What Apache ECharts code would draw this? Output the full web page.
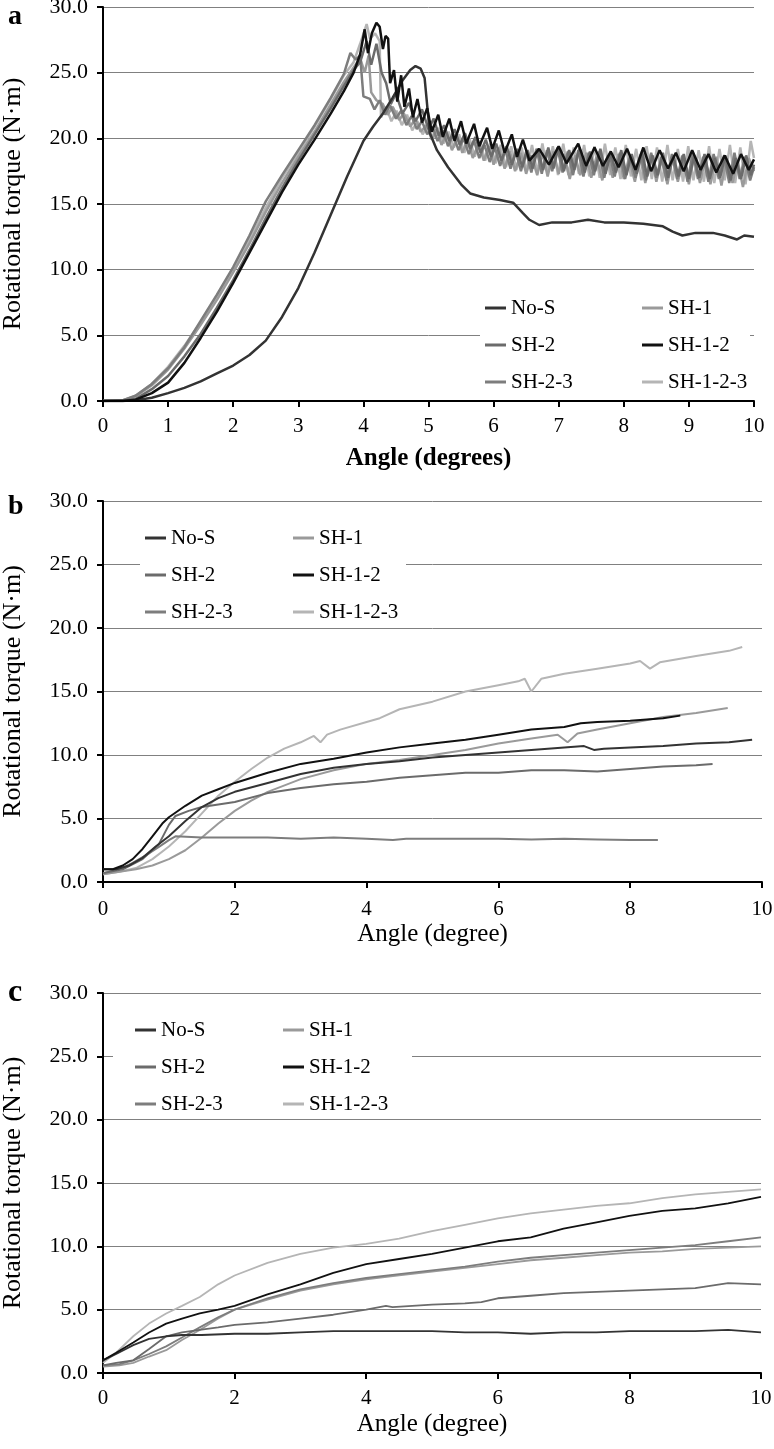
<!DOCTYPE html>
<html><head><meta charset="utf-8">
<script src="https://cdn.jsdelivr.net/npm/echarts/dist/echarts.min.js"></script>
<style>html,body{margin:0;padding:0;background:#fff}#c{width:774px;height:1449px}</style>
</head><body><div id="c"></div><script>
// ---------- data ----------
const seriesNames = ['No-S','SH-1','SH-2','SH-1-2','SH-2-3','SH-1-2-3'];
const yTickLabels = ['0.0','5.0','10.0','15.0','20.0','25.0','30.0'];
const xTickLabelsA = ['0','1','2','3','4','5','6','7','8','9','10'];
const xTickLabelsBC = ['0','2','4','6','8','10'];
const panelLetters = ['a','b','c'];
const xTitles = ['Angle (degrees)','Angle (degree)','Angle (degree)'];
const yTitle = 'Rotational torque (N\u00b7m)';

// Panel a
const aNoS = [[0,0],[0.3,0],[0.5,0.05],[0.75,0.25],[1,0.6],[1.25,1.0],[1.5,1.5],[1.75,2.1],[2,2.7],[2.25,3.5],[2.5,4.6],[2.75,6.4],[3,8.6],[3.25,11.3],[3.5,14.2],[3.75,17.1],[4,19.8],[4.15,20.9],[4.3,21.9],[4.45,23.1],[4.6,24.4],[4.72,25.2],[4.8,25.5],[4.88,25.3],[4.94,24.6],[4.98,22.5],[5.02,20.4],[5.13,19.1],[5.3,17.8],[5.5,16.5],[5.64,15.8],[5.85,15.5],[6.1,15.3],[6.3,15.1],[6.45,14.3],[6.55,13.8],[6.7,13.4],[6.9,13.6],[7.2,13.6],[7.45,13.8],[7.7,13.6],[8.0,13.6],[8.3,13.5],[8.6,13.3],[8.75,12.9],[8.9,12.6],[9.1,12.8],[9.37,12.8],[9.55,12.6],[9.74,12.3],[9.85,12.6],[10,12.5]];
const aSH1 = [[0,0],[0.3,0.05],[0.5,0.35],[0.75,1.2],[1,2.4],[1.25,4.0],[1.5,5.8],[1.75,7.7],[2,9.8],[2.25,12.0],[2.5,14.4],[2.75,16.6],[3,18.6],[3.25,20.5],[3.5,22.6],[3.7,24.3],[3.85,25.4],[3.95,26.1],[4.02,25.0],[4.08,26.3],[4.12,23.5],[4.2,22.9],[4.3,22.6],[4.37,21.8],[4.45,22.4],[4.55,21.4],[4.62,21.9],[4.72,20.9],[4.8,21.5],[4.88,20.5],[4.97,21.0],[5.05,19.9],[5.12,20.7],[5.2,19.5],[5.28,20.4],[5.36,19.1],[5.45,20.1],[5.52,18.9],[5.6,19.9],[5.68,18.5],[5.77,19.6],[5.85,18.3],[5.93,19.4],[6.0,18.0],[6.08,19.3],[6.17,17.7],[6.25,19.0],[6.33,17.5],[6.42,18.9],[6.5,17.3],[6.58,18.7],[6.67,17.2],[6.75,18.9],[6.83,17.1],[6.92,19.0],[7.0,17.3],[7.08,18.8],[7.17,16.9],[7.25,18.7],[7.33,17.2],[7.42,18.9],[7.5,17.0],[7.58,18.6],[7.67,16.8],[7.75,18.7],[7.83,17.0],[7.92,18.8],[8.0,16.9],[8.08,18.5],[8.17,16.7],[8.25,18.6],[8.33,16.6],[8.42,18.8],[8.5,16.7],[8.58,18.4],[8.67,16.5],[8.75,18.6],[8.83,16.7],[8.92,18.5],[9.0,16.5],[9.08,18.7],[9.17,16.6],[9.25,18.4],[9.33,16.5],[9.42,18.6],[9.5,16.4],[9.58,18.5],[9.67,16.6],[9.75,18.3],[9.83,16.3],[9.92,18.5],[10,17.5]];
const aSH2 = [[0,0],[0.3,0],[0.5,0.15],[0.75,0.9],[1,1.9],[1.25,3.4],[1.5,5.1],[1.75,7.1],[2,9.2],[2.25,11.5],[2.5,13.9],[2.75,16.2],[3,18.3],[3.25,20.3],[3.5,22.3],[3.7,24.0],[3.85,25.2],[3.95,25.8],[4.05,27.4],[4.12,25.6],[4.2,27.2],[4.28,25.0],[4.35,24.2],[4.42,22.6],[4.5,23.4],[4.6,21.9],[4.7,22.7],[4.8,21.3],[4.9,22.2],[5.0,20.7],[5.08,21.5],[5.16,20.2],[5.24,21.0],[5.32,19.8],[5.4,20.7],[5.48,19.5],[5.56,20.4],[5.64,19.2],[5.72,20.1],[5.8,18.9],[5.88,19.9],[5.96,18.6],[6.04,19.6],[6.12,18.3],[6.2,19.4],[6.28,18.0],[6.36,19.2],[6.44,17.8],[6.52,19.1],[6.6,17.7],[6.68,19.2],[6.76,17.6],[6.84,19.3],[6.92,17.7],[7.0,19.4],[7.08,17.5],[7.16,19.1],[7.24,17.6],[7.32,19.3],[7.4,17.4],[7.48,19.0],[7.56,17.5],[7.64,19.2],[7.72,17.3],[7.8,18.9],[7.88,17.4],[7.96,19.1],[8.04,17.2],[8.12,18.8],[8.2,17.3],[8.28,19.0],[8.36,17.1],[8.44,18.7],[8.52,17.2],[8.6,18.9],[8.68,17.0],[8.76,18.7],[8.84,17.1],[8.92,18.8],[9.0,16.9],[9.08,18.6],[9.16,17.0],[9.24,18.8],[9.32,16.9],[9.4,18.5],[9.48,17.0],[9.56,18.7],[9.64,16.8],[9.72,18.5],[9.8,16.9],[9.88,18.7],[9.95,17.2],[10,18.0]];
const aSH12 = [[0,0],[0.3,0],[0.5,0.1],[0.75,0.6],[1,1.4],[1.25,2.9],[1.5,4.8],[1.75,6.8],[2,9.0],[2.25,11.3],[2.5,13.6],[2.75,15.9],[3,18.0],[3.25,19.9],[3.5,21.9],[3.7,23.6],[3.85,25.0],[3.95,26.4],[4.02,28.3],[4.07,26.5],[4.13,28.0],[4.2,28.8],[4.25,28.5],[4.3,26.8],[4.34,27.8],[4.38,27.6],[4.41,24.2],[4.47,25.2],[4.52,22.8],[4.58,24.8],[4.63,22.4],[4.7,23.8],[4.76,21.6],[4.83,23.0],[4.9,21.2],[4.98,22.3],[5.05,20.5],[5.15,21.8],[5.22,20.1],[5.32,21.5],[5.4,19.8],[5.5,21.3],[5.58,19.6],[5.7,21.1],[5.78,19.4],[5.9,20.8],[5.98,19.2],[6.08,20.6],[6.17,18.9],[6.28,20.3],[6.36,18.6],[6.45,19.9],[6.55,18.3],[6.7,19.2],[6.85,18.0],[7.0,19.4],[7.12,18.1],[7.3,19.6],[7.42,17.9],[7.55,19.3],[7.68,17.9],[7.8,19.0],[7.92,17.8],[8.05,19.2],[8.18,17.6],[8.3,19.3],[8.42,17.5],[8.55,19.1],[8.68,17.7],[8.8,18.9],[8.92,17.5],[9.05,19.1],[9.18,17.6],[9.3,18.8],[9.42,17.4],[9.55,18.7],[9.68,17.3],[9.8,18.8],[9.92,17.6],[10,18.4]];
const aSH23 = [[0,0],[0.3,0.05],[0.5,0.4],[0.75,1.3],[1,2.5],[1.25,4.1],[1.5,6.1],[1.75,8.1],[2,10.2],[2.25,12.6],[2.5,15.2],[2.75,17.2],[3,19.1],[3.25,21.0],[3.5,23.1],[3.7,24.9],[3.8,26.5],[3.88,26.0],[3.95,26.3],[4.0,23.2],[4.1,23.0],[4.17,22.2],[4.25,22.9],[4.33,21.8],[4.41,22.5],[4.5,21.5],[4.58,22.1],[4.66,21.0],[4.74,21.7],[4.82,20.7],[4.9,21.3],[4.98,20.3],[5.06,20.9],[5.14,19.8],[5.22,20.6],[5.3,19.4],[5.38,20.3],[5.46,19.1],[5.54,20.0],[5.62,18.8],[5.7,19.8],[5.78,18.5],[5.86,19.5],[5.94,18.2],[6.02,19.3],[6.1,17.9],[6.18,19.1],[6.26,17.7],[6.34,19.0],[6.42,17.5],[6.5,19.0],[6.58,17.4],[6.66,19.2],[6.74,17.3],[6.82,19.1],[6.9,17.5],[6.98,19.3],[7.06,17.4],[7.14,19.0],[7.22,17.2],[7.3,19.1],[7.38,17.1],[7.46,18.9],[7.54,17.2],[7.62,19.0],[7.7,17.0],[7.78,18.8],[7.86,17.1],[7.94,18.9],[8.02,16.9],[8.1,18.7],[8.18,17.0],[8.26,18.8],[8.34,16.8],[8.42,18.9],[8.5,17.0],[8.58,18.6],[8.66,16.8],[8.74,18.8],[8.82,16.9],[8.9,18.7],[8.98,16.7],[9.06,18.9],[9.14,16.9],[9.22,18.6],[9.3,16.7],[9.38,18.8],[9.46,16.9],[9.54,18.7],[9.62,16.6],[9.7,18.9],[9.78,16.9],[9.86,18.6],[9.94,16.8],[10,17.8]];
const aSH123 = [[0,0],[0.3,0.05],[0.5,0.4],[0.75,1.3],[1,2.6],[1.25,4.2],[1.5,6.0],[1.75,8.0],[2,10.1],[2.25,12.3],[2.5,14.7],[2.75,17.0],[3,18.9],[3.25,20.9],[3.5,23.0],[3.7,24.8],[3.85,25.8],[3.95,27.2],[4.05,28.7],[4.1,27.6],[4.18,28.0],[4.25,27.4],[4.27,21.6],[4.35,22.4],[4.43,21.3],[4.51,22.1],[4.59,21.0],[4.67,21.8],[4.75,20.6],[4.83,21.3],[4.91,20.3],[4.99,21.0],[5.07,20.0],[5.15,20.8],[5.23,19.6],[5.31,20.5],[5.39,19.3],[5.47,20.3],[5.55,18.9],[5.63,20.0],[5.71,18.6],[5.79,19.8],[5.87,18.3],[5.95,19.6],[6.03,18.1],[6.11,19.5],[6.19,17.8],[6.27,19.4],[6.35,17.6],[6.43,19.3],[6.51,17.5],[6.59,19.5],[6.67,17.4],[6.75,19.6],[6.83,17.3],[6.91,19.4],[6.99,17.2],[7.07,19.6],[7.15,17.2],[7.23,19.3],[7.31,17.3],[7.39,19.5],[7.47,17.1],[7.55,19.4],[7.63,17.0],[7.71,19.6],[7.79,17.2],[7.87,19.3],[7.95,16.9],[8.03,19.5],[8.11,17.1],[8.19,19.2],[8.27,16.8],[8.35,19.4],[8.43,16.9],[8.51,19.3],[8.59,16.7],[8.67,19.5],[8.75,16.8],[8.83,19.2],[8.91,16.7],[8.99,19.4],[9.07,16.8],[9.15,19.1],[9.23,16.7],[9.31,19.4],[9.39,16.6],[9.47,19.2],[9.55,16.8],[9.63,19.5],[9.71,16.6],[9.79,19.3],[9.87,16.5],[9.95,19.8],[10,18.5]];

// Panel b
const bNoS = [[0,1.0],[0.2,1.0],[0.4,1.3],[0.6,1.9],[0.8,2.8],[1.0,3.6],[1.25,4.8],[1.5,5.9],[1.75,6.6],[2,7.1],[2.5,7.8],[3,8.5],[3.5,9.0],[4,9.3],[4.5,9.5],[5,9.8],[5.5,10.0],[6,10.2],[6.5,10.4],[7,10.6],[7.3,10.7],[7.45,10.4],[7.6,10.5],[8,10.6],[8.5,10.7],[9,10.9],[9.5,11.0],[9.85,11.2]];
const bSH1 = [[0,0.6],[0.25,0.8],[0.5,1.0],[0.75,1.3],[1,1.8],[1.25,2.5],[1.5,3.5],[1.75,4.6],[2,5.6],[2.25,6.4],[2.5,7.1],[3,8.1],[3.5,8.8],[4,9.3],[4.5,9.6],[5,10.0],[5.5,10.4],[6,10.9],[6.5,11.3],[6.9,11.6],[7.05,11.0],[7.2,11.7],[7.5,12.0],[8,12.5],[8.5,13.0],[9,13.3],[9.48,13.7]];
const bSH2 = [[0,0.7],[0.3,1.0],[0.6,1.8],[0.85,3.0],[1.0,4.5],[1.1,5.2],[1.3,5.6],[1.5,5.9],[1.75,6.1],[2,6.3],[2.5,7.0],[3,7.4],[3.5,7.7],[4,7.9],[4.5,8.2],[5,8.4],[5.5,8.6],[6,8.6],[6.5,8.8],[7,8.8],[7.5,8.7],[8,8.9],[8.5,9.1],[9,9.2],[9.25,9.3]];
const bSH12 = [[0,1.0],[0.15,1.0],[0.3,1.3],[0.45,1.8],[0.6,2.6],[0.75,3.6],[0.9,4.6],[1.0,5.1],[1.25,6.0],[1.5,6.8],[1.75,7.3],[2,7.8],[2.5,8.6],[3,9.3],[3.5,9.7],[4,10.2],[4.5,10.6],[5,10.9],[5.5,11.2],[6,11.6],[6.5,12.0],[7,12.2],[7.25,12.5],[7.5,12.6],[8,12.7],[8.5,12.9],[8.76,13.1]];
const bSH23 = [[0,0.7],[0.25,1.0],[0.45,1.5],[0.65,2.1],[0.86,2.8],[1.0,3.3],[1.1,3.6],[1.5,3.5],[2,3.5],[2.5,3.5],[3,3.4],[3.5,3.5],[4,3.4],[4.4,3.3],[4.6,3.4],[5,3.4],[5.5,3.4],[6,3.4],[6.5,3.35],[7,3.4],[7.5,3.35],[8,3.3],[8.42,3.3]];
const bSH123 = [[0,0.6],[0.25,0.8],[0.5,1.1],[0.75,1.8],[1,2.8],[1.25,4.0],[1.5,5.4],[1.75,6.8],[2,7.9],[2.25,8.9],[2.5,9.8],[2.75,10.5],[3,11.0],[3.2,11.5],[3.3,11.0],[3.4,11.6],[3.6,12.0],[4,12.6],[4.2,12.9],[4.5,13.6],[5,14.2],[5.5,15.0],[6,15.5],[6.3,15.8],[6.4,16.0],[6.5,15.0],[6.65,16.0],[7,16.4],[7.5,16.8],[8,17.2],[8.15,17.4],[8.3,16.8],[8.45,17.3],[9,17.8],[9.5,18.2],[9.7,18.5]];

// Panel c
const cNoS = [[0,1.0],[0.2,1.5],[0.46,2.2],[0.7,2.7],[0.96,2.9],[1.2,3.0],[1.5,3.0],[2,3.1],[2.5,3.1],[3,3.2],[3.5,3.3],[4,3.3],[4.5,3.3],[5,3.3],[5.5,3.2],[6,3.2],[6.5,3.1],[7,3.2],[7.5,3.2],[8,3.3],[8.5,3.3],[9,3.3],[9.5,3.4],[10,3.2]];
const cSH1 = [[0,0.5],[0.25,0.6],[0.46,0.8],[0.7,1.3],[0.96,1.8],[1.2,2.6],[1.47,3.4],[1.75,4.3],[2,5.0],[2.5,5.8],[3,6.5],[3.5,7.0],[4,7.4],[4.5,7.7],[5,8.0],[5.5,8.3],[6,8.6],[6.5,8.9],[7,9.1],[7.5,9.3],[8,9.5],[8.5,9.6],[9,9.8],[9.5,9.9],[10,10.0]];
const cSH2 = [[0,0.6],[0.2,0.8],[0.46,1.0],[0.7,1.9],[0.96,2.9],[1.2,3.2],[1.47,3.4],[1.75,3.6],[2,3.8],[2.5,4.0],[3,4.3],[3.5,4.6],[4,5.0],[4.3,5.3],[4.4,5.2],[5,5.4],[5.5,5.5],[5.75,5.6],[6,5.9],[6.5,6.1],[7,6.3],[7.5,6.4],[8,6.5],[8.5,6.6],[9,6.7],[9.5,7.1],[10,7.0]];
const cSH12 = [[0,1.0],[0.2,1.6],[0.46,2.4],[0.7,3.2],[0.96,3.9],[1.2,4.3],[1.47,4.7],[1.75,5.0],[2,5.3],[2.5,6.2],[3,7.0],[3.5,7.9],[4,8.6],[4.5,9.0],[5,9.4],[5.5,9.9],[6,10.4],[6.5,10.7],[7,11.4],[7.5,11.9],[8,12.4],[8.5,12.8],[9,13.0],[9.5,13.4],[10,13.9]];
const cSH23 = [[0,0.6],[0.25,0.7],[0.46,1.0],[0.7,1.5],[0.96,2.1],[1.2,2.8],[1.47,3.6],[1.75,4.4],[2,5.0],[2.5,5.9],[3,6.6],[3.5,7.1],[4,7.5],[4.5,7.8],[5,8.1],[5.5,8.4],[6,8.8],[6.5,9.1],[7,9.3],[7.5,9.5],[8,9.7],[8.5,9.9],[9,10.1],[9.5,10.4],[10,10.7]];
const cSH123 = [[0,0.8],[0.2,1.6],[0.46,2.9],[0.7,3.9],[0.96,4.7],[1.2,5.3],[1.47,6.0],[1.75,7.0],[2,7.7],[2.5,8.7],[3,9.4],[3.5,9.9],[4,10.2],[4.5,10.6],[5,11.2],[5.5,11.7],[6,12.2],[6.5,12.6],[7,12.9],[7.5,13.2],[8,13.4],[8.5,13.8],[9,14.1],[9.5,14.3],[10,14.5]];

const panelData = [
  {'No-S':aNoS,'SH-1':aSH1,'SH-2':aSH2,'SH-1-2':aSH12,'SH-2-3':aSH23,'SH-1-2-3':aSH123},
  {'No-S':bNoS,'SH-1':bSH1,'SH-2':bSH2,'SH-1-2':bSH12,'SH-2-3':bSH23,'SH-1-2-3':bSH123},
  {'No-S':cNoS,'SH-1':cSH1,'SH-2':cSH2,'SH-1-2':cSH12,'SH-2-3':cSH23,'SH-1-2-3':cSH123}
];

// ---------- styles / layout ----------
const FONT = 'Liberation Serif';
const colors = {'No-S':'#333333','SH-1':'#9a9a9a','SH-2':'#6b6b6b','SH-1-2':'#111111','SH-2-3':'#7d7d7d','SH-1-2-3':'#b5b5b5'};
const drawOrder = ['SH-1-2-3','SH-1','SH-2-3','SH-2','No-S','SH-1-2'];
const layouts = [
  {grid:{left:103,top:7,width:651,height:394}, xInt:1, xLabels:xTickLabelsA, labelMargin:15, nameGap:45, nameBold:true, lw:2.5,
   legend:{left:480, top:294, padLeft:5, w1:122, w2:82, width:266}, letterTop:3, letterSize:28},
  {grid:{left:103,top:501,width:659,height:381}, xInt:2, xLabels:xTickLabelsBC, labelMargin:17, nameGap:40, nameBold:false, lw:2,
   legend:{left:140, top:524, padLeft:5, w1:113, w2:87, width:262}, letterTop:493, letterSize:28},
  {grid:{left:103,top:993,width:658,height:380}, xInt:2, xLabels:xTickLabelsBC, labelMargin:15, nameGap:39, nameBold:false, lw:1.8,
   legend:{left:113, top:1016, padLeft:22, w1:113, w2:103, width:278}, letterTop:977, letterSize:32}
];

const option = {animation:false, backgroundColor:'#fff', grid:[], xAxis:[], yAxis:[], legend:[], series:[], graphic:[]};
layouts.forEach((L, i) => {
  option.grid.push(Object.assign({containLabel:false, outerBoundsMode:'none'}, L.grid));
  option.xAxis.push({
    type:'value', gridIndex:i, min:0, max:10, interval:L.xInt, z:10,
    name:xTitles[i], nameLocation:'middle', nameGap:L.nameGap,
    nameTextStyle:{fontFamily:FONT, fontSize:25, fontWeight:L.nameBold?'bold':'normal', color:'#000'},
    axisLine:{show:true, onZero:false, lineStyle:{color:'#000', width:2}},
    axisTick:{show:true, inside:false, length:6, lineStyle:{color:'#000', width:2}},
    axisLabel:{margin:L.labelMargin, fontFamily:FONT, fontSize:21, color:'#000',
      formatter:(v)=>L.xLabels[Math.round(v/L.xInt)]},
    splitLine:{show:false}
  });
  option.yAxis.push({
    type:'value', gridIndex:i, min:0, max:30, interval:5,
    name:yTitle, nameLocation:'middle', nameGap:77,
    nameTextStyle:{fontFamily:FONT, fontSize:26, color:'#000'},
    axisLine:{show:true, lineStyle:{color:'#000', width:2}},
    axisTick:{show:true, inside:false, length:6, lineStyle:{color:'#000', width:2}},
    axisLabel:{margin:15, fontFamily:FONT, fontSize:22, color:'#000',
      formatter:(v)=>yTickLabels[Math.round(v/5)]},
    splitLine:{show:true, lineStyle:{color:'#808080', width:1}}
  });
  const lg = L.legend;
  option.legend.push({
    orient:'horizontal', left:lg.left, top:lg.top, width:lg.width,
    padding:[0,0,0,lg.padLeft], itemGap:9, itemWidth:21, itemHeight:3, icon:'rect',
    backgroundColor:'#fff', selectedMode:false,
    textStyle:{fontFamily:FONT, fontSize:21, color:'#000', lineHeight:28},
    data: seriesNames.map((n, k) => ({name:n, textStyle:{width:(k%2===0)?lg.w1:lg.w2}}))
  });
  drawOrder.forEach(n => {
    option.series.push({
      type:'line', name:n, xAxisIndex:i, yAxisIndex:i, data:panelData[i][n],
      showSymbol:false, symbol:'none', color:colors[n],
      lineStyle:{color:colors[n], width:L.lw}, itemStyle:{color:colors[n]}, z:2
    });
  });
  option.graphic.push({type:'text', left:8, top:L.letterTop,
    style:{text:panelLetters[i], fontFamily:FONT, fontWeight:'bold', fontSize:L.letterSize, fill:'#000'}});
});

const chart = echarts.init(document.getElementById('c'), null, {renderer:'canvas'});
chart.setOption(option);
</script></body></html>
